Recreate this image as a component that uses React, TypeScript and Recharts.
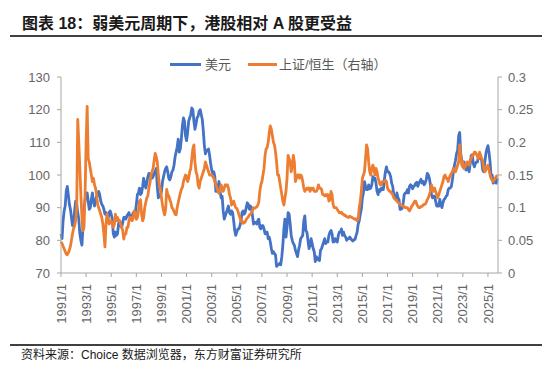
import React from 'react'
import { LineChart, Line, XAxis, YAxis } from 'recharts'

// monthly, 1991/1 .. 2025/10
const usd = [
  82, 80.5, 86, 89, 90.5, 95, 96.5, 94, 91, 89.5, 87, 84.5, // 1991
  85.5, 89, 92, 91, 88.5, 86.5, 82, 80, 78.5, 84, 89.5, 92.5, // 1992
  94, 94.5, 92, 89.5, 90, 92.5, 94.5, 92, 90.5, 92, 93.5, 93.5, // 1993
  95, 94, 92, 91, 90.5, 89.5, 88, 88.5, 87.5, 86.5, 88.5, 89, // 1994
  88, 86.5, 82, 81, 82.5, 81.5, 82, 85, 86, 84.5, 84, 85.5, // 1995
  87, 87, 86.5, 87.5, 88, 88.5, 87, 86.5, 87.5, 88.5, 87.5, 88.5, // 1996
  91, 94, 94.5, 96, 94, 94.5, 96.5, 99, 97.5, 96, 97.5, 99.5, // 1997
  100.5, 99.5, 100, 99, 99.5, 100.5, 101, 102, 96.5, 93, 94, 93.5, // 1998
  95, 98, 99.5, 101, 102, 102.5, 101, 99, 98.5, 99.5, 101, 101.5, // 1999
  103, 105.5, 107, 108.5, 111, 107, 108, 111, 115, 117.5, 116.5, 112, // 2000
  110.5, 113, 116.5, 117.5, 118.5, 120.5, 120, 116.5, 114, 115.5, 117.5, 118, // 2001
  119.5, 120, 118.5, 117, 113.5, 109, 106.5, 107.5, 107.5, 108, 106, 103.5, // 2002
  101.5, 100.5, 101, 99.5, 95, 95, 96.5, 98, 95, 93, 93.5, 89, // 2003
  86.5, 87.5, 88.5, 89.5, 90.5, 88.5, 88, 89, 88.5, 86, 83, 81.5, // 2004
  82.5, 83.5, 83.5, 84.5, 86, 88.5, 89, 88, 88.5, 90, 91.5, 91, // 2005
  89.5, 90.5, 90, 87.5, 85, 85.5, 85.5, 85, 86, 86.5, 84, 83.5, // 2006
  84.5, 84.5, 83.5, 82, 82.5, 82.5, 80.5, 81, 79.5, 77.5, 76, 76.5, // 2007
  76, 75.5, 72, 72.5, 72.5, 73, 72.5, 75, 78.5, 83.5, 86.5, 81, // 2008
  84, 88.5, 88, 85, 81.5, 80, 79, 78.5, 77, 76, 75, 77, // 2009
  78.5, 80.5, 81, 81.5, 86, 87.5, 83, 82.5, 80, 77.5, 78.5, 80.5, // 2010
  79, 77.5, 76.5, 73.5, 75, 74.5, 74, 73.8, 77, 77.5, 78.5, 79.5, // 2011
  80.5, 79, 79.5, 79.5, 81.5, 82.5, 83, 82, 79.5, 79.5, 80.5, 80, // 2012
  79.5, 81.5, 82.5, 82.5, 83.5, 81.5, 82.5, 81.5, 81, 80, 80.5, 80.5, // 2013
  81, 80.5, 80, 79.8, 80.2, 80.3, 81.5, 82.5, 85, 86, 88, 89.5, // 2014
  93, 94.5, 98, 96.5, 95.5, 95.5, 97, 95.8, 96, 97, 99.5, 98.5, // 2015
  99, 97.5, 95, 94, 95.5, 95, 96, 95.5, 95.5, 98.5, 101, 102.5, // 2016
  101, 101, 100.5, 99.5, 97.5, 96.5, 94, 93, 92.5, 94.5, 93, 92.5, // 2017
  89.5, 89.5, 89.8, 91.5, 94, 94.5, 94.5, 95.5, 94.5, 96.5, 97, 96.7, // 2018
  95.8, 96.5, 96.8, 97.5, 97.8, 96.5, 97.5, 98, 98.7, 97.5, 98, 97, // 2019
  97.5, 98.5, 100.5, 100, 99, 97, 94, 93, 93.5, 93.5, 92, 90.5, // 2020
  90.5, 90.5, 92.5, 91, 90, 91.5, 92.5, 92.8, 93.5, 93.8, 95.5, 96, // 2021
  96, 96.5, 98.5, 101, 103, 104.5, 106.5, 107.5, 112, 113, 106.5, 104.5, // 2022
  102.5, 104, 103, 101.5, 103, 102.5, 101, 103.5, 106, 106.2, 103.5, 102.5, // 2023
  103.5, 104, 104, 106, 105, 105.5, 104.5, 101.5, 101, 104, 106.5, 108, // 2024
  109, 107, 104, 99.5, 100, 97.5, 98, 98, 97.5, 99, // 2025
]

// 上证/恒生, right axis
const ratio = [
  0.048, 0.045, 0.041, 0.037, 0.033, 0.029, 0.028, 0.031, 0.035, 0.041, 0.05, 0.06, // 1991
  0.068, 0.072, 0.08, 0.1, 0.235, 0.2, 0.16, 0.12, 0.085, 0.065, 0.07, 0.12, // 1992
  0.2, 0.255, 0.175, 0.17, 0.16, 0.15, 0.14, 0.145, 0.135, 0.13, 0.12, 0.105, // 1993
  0.1, 0.095, 0.09, 0.085, 0.075, 0.06, 0.04, 0.075, 0.09, 0.08, 0.075, 0.08, // 1994
  0.08, 0.075, 0.07, 0.075, 0.09, 0.08, 0.085, 0.08, 0.08, 0.075, 0.07, 0.065, // 1995
  0.052, 0.06, 0.06, 0.07, 0.07, 0.08, 0.085, 0.085, 0.08, 0.085, 0.095, 0.09, // 1996
  0.082, 0.085, 0.095, 0.11, 0.112, 0.09, 0.08, 0.085, 0.1, 0.108, 0.115, 0.118, // 1997
  0.13, 0.138, 0.15, 0.155, 0.16, 0.172, 0.183, 0.178, 0.17, 0.15, 0.135, 0.128, // 1998
  0.115, 0.104, 0.095, 0.089, 0.098, 0.128, 0.12, 0.118, 0.112, 0.108, 0.1, 0.098, // 1999
  0.094, 0.09, 0.089, 0.1, 0.108, 0.115, 0.122, 0.128, 0.131, 0.14, 0.145, 0.15, // 2000
  0.148, 0.14, 0.145, 0.155, 0.16, 0.175, 0.19, 0.196, 0.17, 0.155, 0.15, 0.135, // 2001
  0.13, 0.14, 0.145, 0.15, 0.155, 0.16, 0.17, 0.165, 0.16, 0.155, 0.15, 0.15, // 2002
  0.15, 0.148, 0.145, 0.14, 0.135, 0.13, 0.125, 0.122, 0.128, 0.135, 0.13, 0.125, // 2003
  0.13, 0.135, 0.133, 0.135, 0.13, 0.12, 0.115, 0.104, 0.108, 0.11, 0.104, 0.1, // 2004
  0.099, 0.095, 0.089, 0.085, 0.079, 0.08, 0.076, 0.077, 0.078, 0.082, 0.084, 0.086, // 2005
  0.089, 0.09, 0.092, 0.096, 0.1, 0.099, 0.1, 0.101, 0.104, 0.108, 0.125, 0.135, // 2006
  0.14, 0.15, 0.16, 0.18, 0.19, 0.192, 0.2, 0.215, 0.225, 0.22, 0.21, 0.2, // 2007
  0.196, 0.185, 0.17, 0.15, 0.15, 0.14, 0.13, 0.12, 0.11, 0.104, 0.115, 0.125, // 2008
  0.145, 0.18, 0.175, 0.17, 0.155, 0.165, 0.18, 0.17, 0.14, 0.145, 0.15, 0.15, // 2009
  0.145, 0.15, 0.148, 0.14, 0.13, 0.125, 0.128, 0.13, 0.128, 0.13, 0.125, 0.13, // 2010
  0.128, 0.13, 0.125, 0.125, 0.125, 0.128, 0.135, 0.13, 0.13, 0.128, 0.12, 0.12, // 2011
  0.118, 0.12, 0.118, 0.12, 0.11, 0.112, 0.125, 0.12, 0.105, 0.1, 0.1, 0.1, // 2012
  0.097, 0.095, 0.092, 0.092, 0.093, 0.09, 0.09, 0.088, 0.088, 0.086, 0.086, 0.085, // 2013
  0.087, 0.086, 0.085, 0.084, 0.083, 0.082, 0.083, 0.08, 0.082, 0.1, 0.11, 0.125, // 2014
  0.145, 0.15, 0.155, 0.175, 0.196, 0.19, 0.17, 0.155, 0.15, 0.16, 0.165, 0.16, // 2015
  0.15, 0.16, 0.155, 0.145, 0.14, 0.135, 0.135, 0.14, 0.14, 0.14, 0.142, 0.14, // 2016
  0.13, 0.127, 0.125, 0.125, 0.122, 0.12, 0.115, 0.113, 0.112, 0.11, 0.108, 0.107, // 2017
  0.105, 0.104, 0.103, 0.102, 0.102, 0.1, 0.1, 0.1, 0.097, 0.095, 0.098, 0.102, // 2018
  0.104, 0.107, 0.11, 0.11, 0.105, 0.102, 0.1, 0.1, 0.102, 0.102, 0.104, 0.105, // 2019
  0.105, 0.108, 0.112, 0.115, 0.12, 0.125, 0.135, 0.13, 0.125, 0.13, 0.125, 0.12, // 2020
  0.115, 0.12, 0.125, 0.13, 0.135, 0.14, 0.148, 0.15, 0.145, 0.145, 0.14, 0.145, // 2021
  0.15, 0.152, 0.155, 0.16, 0.158, 0.155, 0.16, 0.165, 0.17, 0.196, 0.18, 0.165, // 2022
  0.17, 0.16, 0.162, 0.165, 0.17, 0.168, 0.165, 0.172, 0.175, 0.18, 0.18, 0.185, // 2023
  0.185, 0.182, 0.178, 0.175, 0.185, 0.18, 0.175, 0.172, 0.16, 0.155, 0.158, 0.162, // 2024
  0.165, 0.158, 0.15, 0.145, 0.142, 0.14, 0.143, 0.145, 0.148, 0.15, // 2025
]

const yearTicks = [1991, 1993, 1995, 1997, 1999, 2001, 2003, 2005, 2007, 2009, 2011, 2013, 2015, 2017, 2019, 2021, 2023, 2025]
const leftTicks = [70, 80, 90, 100, 110, 120, 130]
const rightTicks = [0, 0.05, 0.1, 0.15, 0.2, 0.25, 0.3]

const rows = usd.map((v, i) => ({ t: 1991 + i / 12, usd: v, ratio: ratio[i] }))

const BLUE = '#4472C4'
const ORANGE = '#ED7D31'
const AXIS = '#A6A6A6'
const LABEL = '#666666'
const latin = '"Liberation Sans", Arial, "Noto Sans CJK SC", sans-serif'

const YearTick = (props: any) => {
  const { x, y, payload } = props
  return (
    <text x={x} y={y} transform={`rotate(-90 ${x} ${y})`} textAnchor="end" dy="0.35em"
      fill={LABEL} fontSize={13} fontFamily={latin}>
      {`${payload.value}/1`}
    </text>
  )
}

export default function App() {
  return (
    <div style={{ position: 'absolute', left: 0, top: 0, width: 550, height: 366, background: '#fff', fontFamily: latin }}>
      <div style={{ position: 'absolute', left: 22, top: 14, lineHeight: '20px', fontSize: 16, fontWeight: 700, color: '#1a1a1a', whiteSpace: 'nowrap' }}>
        图表 18：弱美元周期下，港股相对 A 股更受益
      </div>
      <div style={{ position: 'absolute', left: 10, top: 35, width: 532, height: 2, background: '#404040' }} />

      <div style={{ position: 'absolute', left: 170, top: 63, width: 31, height: 3, background: BLUE }} />
      <div style={{ position: 'absolute', left: 205, top: 56, fontSize: 13, lineHeight: '17px', color: '#595959' }}>美元</div>
      <div style={{ position: 'absolute', left: 248, top: 63, width: 29, height: 3, background: ORANGE }} />
      <div style={{ position: 'absolute', left: 279, top: 56, fontSize: 13, lineHeight: '17px', color: '#595959', whiteSpace: 'nowrap' }}>上证/恒生（右轴）</div>

      <div style={{ position: 'absolute', left: 0, top: 0 }}>
        <LineChart width={550} height={340} data={rows} margin={{ top: 77, right: 2, left: 11, bottom: 17 }}>
          <XAxis dataKey="t" type="number" domain={[1991, 2025.8]} ticks={yearTicks} interval={0}
            height={50} stroke={AXIS} tickSize={4} tickMargin={7} tick={<YearTick />} />
          <YAxis yAxisId="left" orientation="left" domain={[70, 130]} ticks={leftTicks} width={50}
            stroke={AXIS} tickSize={4} tickMargin={7} interval={0}
            tick={{ fill: LABEL, fontSize: 13, fontFamily: latin }} />
          <YAxis yAxisId="right" orientation="right" domain={[0, 0.3]} ticks={rightTicks} width={50}
            stroke={AXIS} tickSize={4} tickMargin={6} interval={0}
            tickFormatter={(v: number) => String(v)}
            tick={{ fill: LABEL, fontSize: 13, fontFamily: latin }} />
          <Line yAxisId="left" dataKey="usd" stroke={BLUE} strokeWidth={2.8} strokeLinejoin="round" dot={false} isAnimationActive={false} />
          <Line yAxisId="right" dataKey="ratio" stroke={ORANGE} strokeWidth={2.8} strokeLinejoin="round" dot={false} isAnimationActive={false} />
        </LineChart>
      </div>

      <div style={{ position: 'absolute', left: 10, top: 344, width: 532, height: 2, background: '#404040' }} />
      <div style={{ position: 'absolute', left: 21, top: 347, fontSize: 12, lineHeight: '16px', color: '#1a1a1a', whiteSpace: 'nowrap' }}>
        资料来源：Choice 数据浏览器，东方财富证券研究所
      </div>
    </div>
  )
}
